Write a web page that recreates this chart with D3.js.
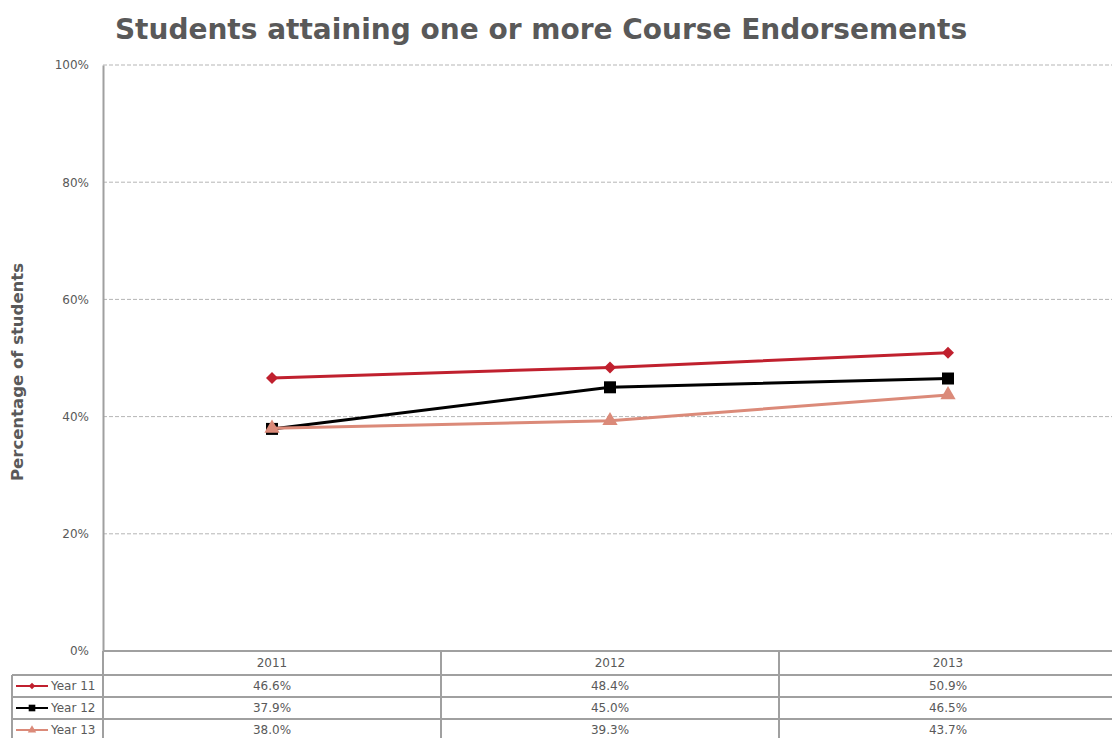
<!DOCTYPE html>
<html><head><meta charset="utf-8">
<script src="https://cdn.jsdelivr.net/npm/d3@7"></script>
<style>body{margin:0;background:#fff;} svg{display:block;font-family:"DejaVu Sans",Verdana,sans-serif;}</style>
</head><body>
<svg id="c" width="1112" height="738"></svg>
<script>
const categories = ["2011", "2012", "2013"];
const seriesNames = ["Year 11", "Year 12", "Year 13"];
const year11 = [46.6, 48.4, 50.9];
const year12 = [37.9, 45.0, 46.5];
const year13 = [38.0, 39.3, 43.7];
const yTicks = [0, 20, 40, 60, 80, 100];
const title = "Students attaining one or more Course Endorsements";
const yTitle = "Percentage of students";

(function () {
const series = [
  {name: seriesNames[0], values: year11, color: "#C0202E", marker: "diamond"},
  {name: seriesNames[1], values: year12, color: "#000000", marker: "square"},
  {name: seriesNames[2], values: year13, color: "#DB8A79", marker: "triangle"}
];

const svg = d3.select("#c");
const pLeft = 103, pRight = 1117, pTop = 65, pBottom = 651;
const x = d3.scaleBand().domain(categories).range([pLeft, pRight]);
const y = d3.scaleLinear().domain([0, 100]).range([pBottom, pTop]);
const textColor = "#595959";

svg.append("text").attr("x", 541).attr("y", 39).attr("text-anchor", "middle")
  .attr("font-size", 28).attr("font-weight", "bold").attr("fill", textColor).text(title);

svg.append("text").attr("transform", "translate(23,372) rotate(-90)")
  .attr("text-anchor", "middle").attr("font-size", 16.5).attr("font-weight", "bold")
  .attr("fill", textColor).text(yTitle);

// grid
svg.append("g").selectAll("line").data(yTicks.filter(d => d > 0)).join("line")
  .attr("x1", pLeft).attr("x2", 1112).attr("y1", d => y(d)).attr("y2", d => y(d))
  .attr("stroke", "#B5B5B5").attr("stroke-width", 1).attr("stroke-dasharray", "4,2");

// y axis
const yAxis = d3.axisLeft(y).tickValues(yTicks).tickFormat(d => d + "%").tickSize(0).tickPadding(14);
const gy = svg.append("g").attr("transform", `translate(${pLeft},0)`).call(yAxis);
gy.select(".domain").attr("stroke", "#A0A0A0").attr("stroke-width", 2);
gy.selectAll("text").attr("font-size", 12).attr("fill", textColor).attr("font-family", "DejaVu Sans, Verdana, sans-serif");

// data table
const rowH = 22;
const tableTop = pBottom, headerH = 24;
const tg = svg.append("g");
const lineC = "#A0A0A0";
tg.append("line").attr("x1", pLeft).attr("x2", 1112).attr("y1", tableTop).attr("y2", tableTop).attr("stroke", lineC).attr("stroke-width", 2);
categories.forEach((c) => {
  tg.append("text").attr("x", x(c) + x.bandwidth() / 2).attr("y", tableTop + 16)
    .attr("text-anchor", "middle").attr("font-size", 12).attr("fill", textColor).text(c);
});
categories.forEach((c, i) => {
  if (i > 0) tg.append("line").attr("x1", x(c)).attr("x2", x(c)).attr("y1", tableTop).attr("y2", 738).attr("stroke", lineC).attr("stroke-width", 2);
});
tg.append("line").attr("x1", pLeft).attr("x2", pLeft).attr("y1", tableTop).attr("y2", 738).attr("stroke", lineC).attr("stroke-width", 2);
tg.append("line").attr("x1", 12).attr("x2", 12).attr("y1", tableTop + headerH).attr("y2", 738).attr("stroke", lineC).attr("stroke-width", 2);

function markerPath(type, s) {
  if (type === "diamond") return d3.symbol(d3.symbolSquare, s * 0.5)();
  if (type === "square") return d3.symbol(d3.symbolSquare, s)();
  return d3.symbol(d3.symbolTriangle, s * 0.7)();
}

series.forEach((s, r) => {
  const ry = tableTop + headerH + r * rowH;
  tg.append("line").attr("x1", 12).attr("x2", 1112).attr("y1", ry).attr("y2", ry).attr("stroke", lineC).attr("stroke-width", 2);
  const cy = ry + rowH / 2;
  tg.append("line").attr("x1", 16).attr("x2", 48).attr("y1", cy).attr("y2", cy).attr("stroke", s.color).attr("stroke-width", 2);
  tg.append("path").attr("d", markerPath(s.marker, 44)).attr("transform", `translate(32,${cy})` + (s.marker === "diamond" ? " rotate(45)" : "")).attr("fill", s.color);
  tg.append("text").attr("x", 51).attr("y", cy + 4).attr("font-size", 12).attr("fill", textColor).text(s.name);
  s.values.forEach((v, i) => {
    tg.append("text").attr("x", x(categories[i]) + x.bandwidth() / 2).attr("y", cy + 4)
      .attr("text-anchor", "middle").attr("font-size", 12).attr("fill", textColor).text(v.toFixed(1) + "%");
  });
});

const line = d3.line().x((d, i) => x(categories[i]) + x.bandwidth() / 2).y(d => y(d));
series.forEach(s => {
  const g = svg.append("g");
  g.append("path").attr("d", line(s.values)).attr("fill", "none").attr("stroke", s.color).attr("stroke-width", 3);
  g.selectAll("path.m").data(s.values).join("path").attr("class", "m")
    .attr("d", markerPath(s.marker, 144))
    .attr("transform", (d, i) => `translate(${x(categories[i]) + x.bandwidth() / 2},${y(d)})` + (s.marker === "diamond" ? " rotate(45)" : ""))
    .attr("fill", s.color);
});
})();
</script>
</body></html>
